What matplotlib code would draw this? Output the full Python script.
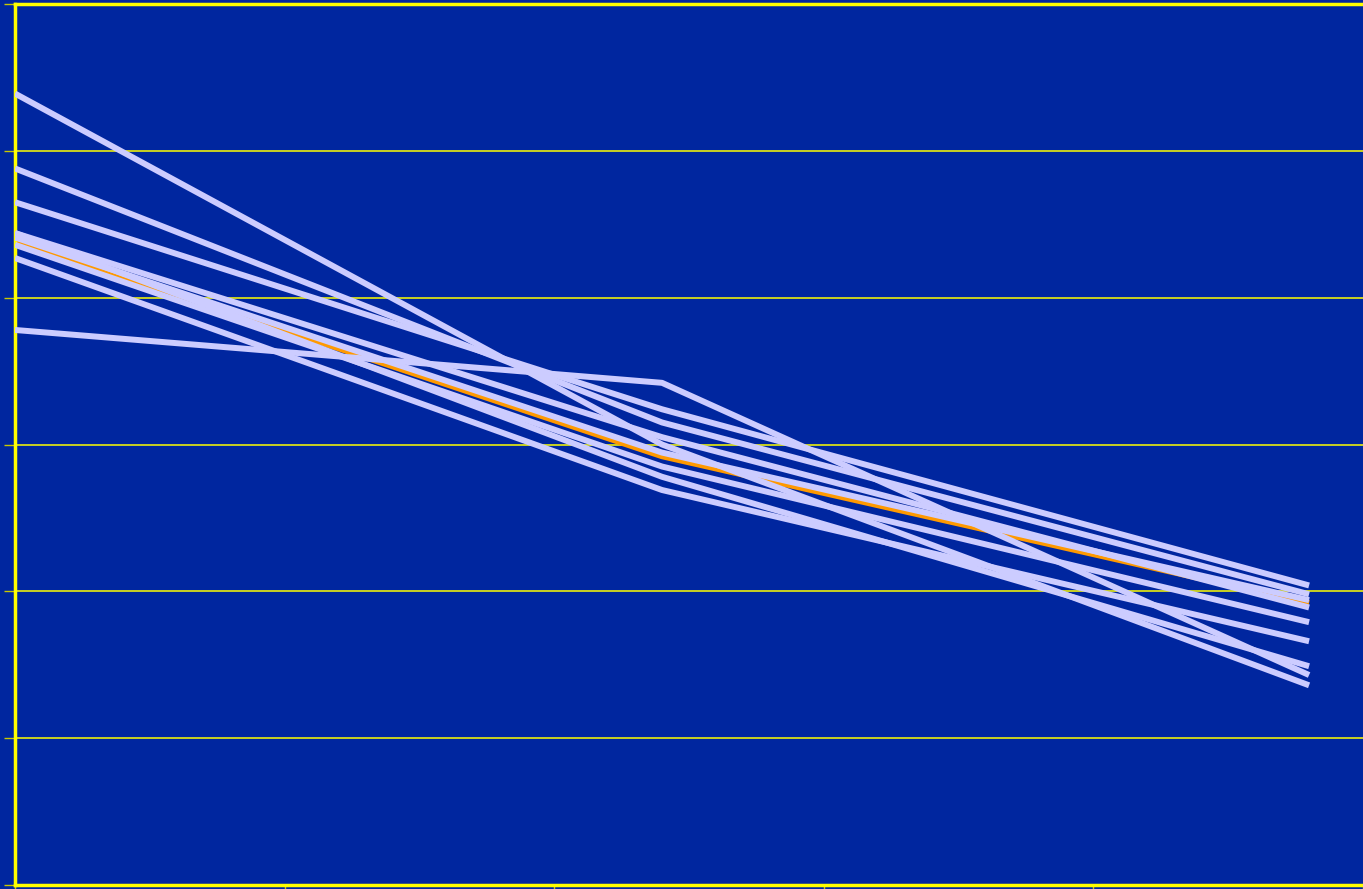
import numpy as np
import matplotlib.pyplot as plt

# x positions of the three points of every series
x = [0, 2.4, 4.8]

# series values (start, middle, end)
series = [
    [5.39, 3.00, 1.36],
    [4.88, 3.15, 1.98],
    [4.65, 3.24, 2.04],
    [4.44, 3.05, 1.89],
    [4.41, 2.945, 1.94],
    [4.36, 2.85, 1.79],
    [4.44, 2.78, 1.49],
    [4.27, 2.69, 1.66],
    [3.78, 3.42, 1.43],
]
highlight = [4.39, 2.92, 1.92]

bg = "#00269F"
yellow = "#FFFF00"

fig = plt.figure(figsize=(13.63, 8.89), dpi=100, facecolor=bg)
ax = fig.add_axes([15 / 1363, 4 / 889, 1 - 15 / 1363, 881 / 889])
ax.set_facecolor(bg)

ax.plot(x, highlight, color="#FF9900", lw=4.3, zorder=2, solid_capstyle="butt")
for s in series:
    ax.plot(x, s, color="#CCCCFF", lw=4.3, zorder=3, solid_capstyle="butt")

ax.set_xlim(0, 5)
ax.set_ylim(0, 6)
ax.set_xticks(np.arange(0, 6, 1))
ax.set_yticks(np.arange(0, 7, 1))
ax.set_xticklabels([])
ax.set_yticklabels([])
ax.grid(axis="y", color=yellow, lw=1.1, zorder=1)
ax.tick_params(axis="y", direction="out", length=8, width=1, color="#C8C800")
ax.tick_params(axis="x", direction="out", length=3, width=1, color="#C8C800")

for side in ["left", "top", "bottom"]:
    ax.spines[side].set_color(yellow)
    ax.spines[side].set_linewidth(2.5)
ax.spines["right"].set_visible(False)

plt.savefig("out.png", dpi=100, facecolor=bg)
